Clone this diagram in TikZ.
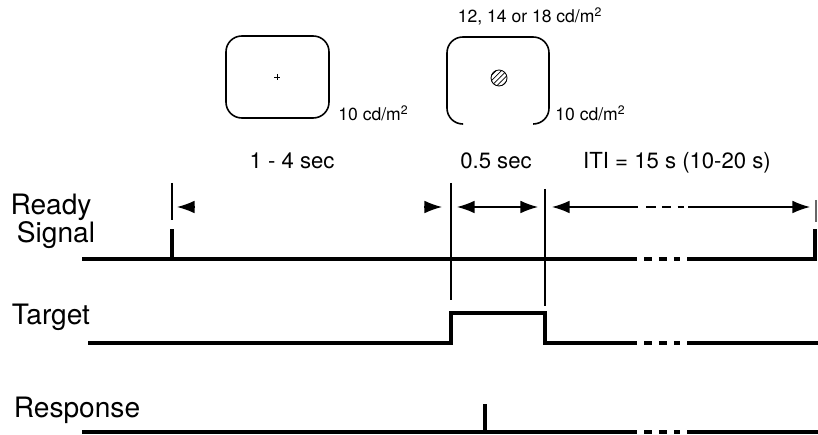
\documentclass[tikz,border=0pt]{standalone}
\usepackage{fontspec}
\setmainfont{TeX Gyre Heros}
\usetikzlibrary{arrows.meta,calc,patterns}
\tikzset{
  >={Latex[length=10pt, width=7.2pt]},
  trace/.style={line width=2.3pt},
  marker/.style={line width=0.75pt},
  screen/.style={draw, line width=0.9pt, rounded corners=9pt},
  rowlab/.style={font=\fontsize{16}{16}\selectfont, inner sep=0pt},
  durlab/.style={font=\fontsize{12.6}{14}\selectfont, inner sep=0pt},
  lumlab/.style={font=\fontsize{10}{12}\selectfont, inner sep=0pt},
  dur/.style={line width=0.7pt, <->},
  headonly/.style={line width=0.7pt, ->},
  gapdash/.style={dash pattern=on 4.5pt off 4pt},
  thindash/.style={line width=0.7pt, dash pattern=on 5.5pt off 3.5pt},
}

\begin{document}
\begin{tikzpicture}[x=0.02cm, y=-0.02cm]
  \useasboundingbox (0,0) rectangle (818,435);
  % rows and event times
  \coordinate (rdy) at (82,259);
  \coordinate (tgt) at (88,343);
  \coordinate (rsp) at (82,432);
  \coordinate (arr) at (0,207);
  \coordinate (cue) at (172,0);
  \coordinate (on) at (451,0);
  \coordinate (off) at (545,0);
  \coordinate (press) at (485,0);
  \coordinate (cut) at (637,0);
  \coordinate (resume) at (687,0);
  \coordinate (next) at (815,0);

  % screens
  \draw[screen] (226,36) rectangle (329,118);
  \draw[line width=0.5pt] (274,77) -- (280,77) (277,74) -- (277,80);
  \node[lumlab, anchor=base west] (lum1) at (338,121) {10 cd/m\textsuperscript{2}};
  \draw[screen] (463,124) -- (447,124) -- (447,37) -- (549,37) -- (549,124) -- (533,124);
  \draw[line width=0.5pt, pattern=north east lines] (499,78) circle[radius=8];
  \node[lumlab, anchor=base] (lumt) at (530,23) {12, 14 or 18 cd/m\textsuperscript{2}};
  \node[lumlab, anchor=base west] (lum2) at (555,121) {10 cd/m\textsuperscript{2}};

  % durations
  \node[durlab, anchor=base] (d1) at (292,169) {1 - 4 sec};
  \node[durlab, anchor=base] (d2) at (496,169) {0.5 sec};
  \node[durlab, anchor=base] (d3) at (677,169) {ITI = 15 s (10-20 s)};
  \draw[marker] (cue |- 0,183) -- (cue |- 0,220);
  \draw[marker] (on |- 0,183) -- (on |- 0,300);
  \draw[marker] (off |- 0,189) -- (off |- 0,306);
  \draw[marker, black!60] ($(next |- 0,200)+(1,0)$) -- ($(next |- 0,222)+(1,0)$);
  \draw[headonly] ($(cue |- arr)+(23,0)$) -- ($(cue |- arr)+(5,0)$);
  \draw[headonly] ($(on |- arr)+(-27,0)$) -- ($(on |- arr)+(-9,0)$);
  \draw[dur] ($(on |- arr)+(6,0)$) -- ($(off |- arr)+(-7,0)$);
  \draw[line width=0.7pt, <-] ($(off |- arr)+(7,0)$) -- ($(cut |- arr)+(1,0)$);
  \draw[thindash] ($(cut |- arr)+(9,0)$) -- ($(resume |- arr)+(-3,0)$);
  \draw[headonly] ($(resume |- arr)+(1,0)$) -- ($(next |- arr)+(-5,0)$);

  % row labels
  \node[rowlab, anchor=base] (rdylab) at (51,215) {Ready};
  \node[rowlab, anchor=base] (siglab) at (56,243) {Signal};
  \node[rowlab, anchor=base] (tgtlab) at (51,325) {Target};
  \node[rowlab, anchor=base] (rsplab) at (77,418) {Response};

  % ready signal
  \draw[trace] (rdy) -- (cut |- rdy);
  \draw[trace] (cue |- rdy) -- ++(0,-30);
  \draw[trace, gapdash] ($(cut |- rdy)+(7,0)$) -- ($(resume |- rdy)+(-7,0)$);
  \draw[trace] (resume |- rdy) -- (next |- rdy) -- ++(0,-30);

  % target
  \draw[trace] (tgt) -- (on |- tgt) -- ++(0,-30) -| (off |- tgt) -- (cut |- tgt);
  \draw[trace, gapdash] ($(cut |- tgt)+(7,0)$) -- ($(resume |- tgt)+(-7,0)$);
  \draw[trace] (resume |- tgt) -- (818,343);

  % response
  \draw[trace] (rsp) -- (cut |- rsp);
  \draw[trace] (press |- rsp) -- ++(0,-28);
  \draw[trace, gapdash] ($(cut |- rsp)+(7,0)$) -- ($(resume |- rsp)+(-7,0)$);
  \draw[trace] (resume |- rsp) -- (818,432);
\end{tikzpicture}
\end{document}
